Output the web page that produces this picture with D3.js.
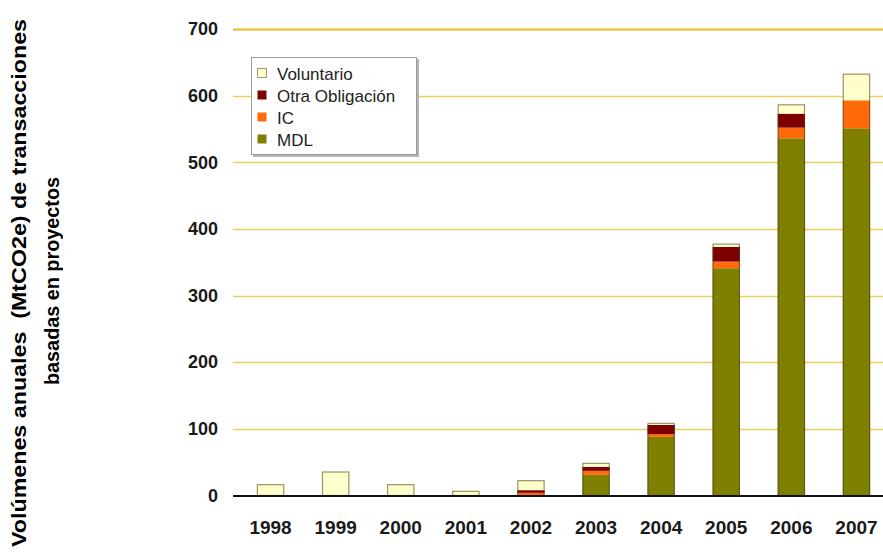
<!DOCTYPE html>
<html>
<head>
<meta charset="utf-8">
<script src="https://cdn.jsdelivr.net/npm/d3@7"></script>
<style>
  html, body { margin: 0; padding: 0; background: #ffffff; }
  svg { display: block; }
  text { font-family: "Liberation Sans", Arial, sans-serif; }
</style>
</head>
<body>
<svg id="chart" width="883" height="556"></svg>
<script>
// Annual project-based transaction volumes (MtCO2e), stacked by segment
const years = ["1998", "1999", "2000", "2001", "2002", "2003", "2004", "2005", "2006", "2007"];
const mdl        = [0, 0, 0, 0, 0, 31, 88, 341, 536, 551];
const ic         = [0, 0, 0, 0, 4, 6, 4, 10, 16, 42];
const otra       = [0, 0, 0, 0, 4, 6, 14, 22, 21, 0];
const voluntario = [17, 36, 17, 7, 15, 6, 3, 5, 14, 40];

const seriesNames  = ["MDL", "IC", "Otra Obligación", "Voluntario"];
const seriesColors = ["#7f7f00", "#ff6a0a", "#7d0000", "#ffffcc"];
const yTicks = [0, 100, 200, 300, 400, 500, 600, 700];
const titleLines = ["Volúmenes anuales  (MtCO2e) de transacciones", "basadas en proyectos"];

const rows = years.map((y, i) => ({
  year: y, "MDL": mdl[i], "IC": ic[i], "Otra Obligación": otra[i], "Voluntario": voluntario[i]
}));

const svg = d3.select("#chart");

const x = d3.scaleBand().domain(years).range([238, 889]).paddingInner(0.58).paddingOuter(0.29);
const y = d3.scaleLinear().domain([0, 700]).range([495.5, 29]);

// Gridlines with short outer ticks
const grid = svg.append("g");
grid.selectAll("line").data(yTicks.filter(d => d > 0)).join("line")
  .attr("x1", 233).attr("x2", 883)
  .attr("y1", d => Math.round(y(d)) + 0.5).attr("y2", d => Math.round(y(d)) + 0.5)
  .attr("stroke", d => d === 700 ? "#e6bd1e" : "#ecce5a")
  .attr("stroke-width", d => d === 700 ? 1.8 : 1.3);

// Y axis labels
const yAxis = d3.axisLeft(y).tickValues(yTicks).tickSize(0).tickPadding(0).tickFormat(d3.format("d"));
const yg = svg.append("g").attr("transform", "translate(218,0)").call(yAxis);
yg.select(".domain").remove();
yg.selectAll("text")
  .attr("fill", "#1a1a1a").attr("font-size", 18).attr("font-weight", "bold")
  .style("font-family", "'Liberation Sans', Arial, sans-serif");

// Stacked bars
const stack = d3.stack().keys(seriesNames);
const layers = stack(rows);
const color = d3.scaleOrdinal().domain(seriesNames).range(seriesColors);

const barG = svg.append("g");
barG.selectAll("g.layer").data(layers).join("g")
  .attr("class", "layer")
  .attr("fill", d => color(d.key))
  .selectAll("rect").data(d => d.filter(s => s[1] - s[0] > 0)).join("rect")
  .attr("x", d => x(d.data.year))
  .attr("width", x.bandwidth())
  .attr("y", d => y(d[1]))
  .attr("height", d => y(d[0]) - y(d[1]));

// Outline around each full bar
const totals = rows.map(r => ({ year: r.year, total: d3.sum(seriesNames, k => r[k]) }));
barG.selectAll("rect.outline").data(totals).join("rect")
  .attr("class", "outline")
  .attr("x", d => x(d.year) + 0.5)
  .attr("width", x.bandwidth() - 1)
  .attr("y", d => y(d.total) + 0.5)
  .attr("height", d => y(0) - y(d.total) - 0.5)
  .attr("fill", "none")
  .attr("stroke", "rgba(70,60,20,0.55)")
  .attr("stroke-width", 1.2);

// Baseline
svg.append("line")
  .attr("x1", 233).attr("x2", 883)
  .attr("y1", y(0) + 0.5).attr("y2", y(0) + 0.5)
  .attr("stroke", "#111").attr("stroke-width", 2.2);

// X axis labels
const xAxis = d3.axisBottom(x).tickSize(0).tickPadding(0);
const xg = svg.append("g").attr("transform", "translate(0,520)").call(xAxis);
xg.select(".domain").remove();
xg.selectAll("text")
  .attr("dy", "0.71em")
  .attr("fill", "#1a1a1a").attr("font-size", 19).attr("font-weight", "bold")
  .style("font-family", "'Liberation Sans', Arial, sans-serif");

// Legend
const legend = svg.append("g").attr("transform", "translate(251,57)");
legend.append("rect").attr("x", 2).attr("y", 2).attr("width", 166).attr("height", 98)
  .attr("fill", "#b5b5b5");
legend.append("rect").attr("x", 0.5).attr("y", 0.5).attr("width", 165).attr("height", 97)
  .attr("fill", "#ffffff").attr("stroke", "#9a9a9a").attr("stroke-width", 1);
const legendOrder = seriesNames.slice().reverse();
const items = legend.selectAll("g.item").data(legendOrder).join("g")
  .attr("class", "item")
  .attr("transform", (d, i) => `translate(6,${17 + i * 22})`);
items.append("rect")
  .attr("x", 0.5).attr("y", -5.5).attr("width", 9).attr("height", 9)
  .attr("fill", d => color(d))
  .attr("stroke", d => d === "Voluntario" ? "#a09a80" : "none");
items.append("text")
  .attr("x", 20).attr("y", 0).attr("dy", "0.35em")
  .attr("font-size", 17).attr("fill", "#222")
  .text(d => d);

// Rotated axis title, clipped on its right edge
svg.append("clipPath").attr("id", "titleClip")
  .append("rect").attr("x", 0).attr("y", 0).attr("width", 63).attr("height", 556);
const titleLengths = [528, 208];
const title = svg.append("g").attr("clip-path", "url(#titleClip)")
  .append("text")
  .attr("transform", "translate(0,283) rotate(-90)")
  .attr("text-anchor", "middle")
  .attr("font-size", 21).attr("font-weight", "bold").attr("fill", "#000")
  .style("white-space", "pre");
title.selectAll("tspan").data(titleLines).join("tspan")
  .attr("x", (d, i) => i === 0 ? 0 : 2)
  .attr("y", (d, i) => 26 + i * 33)
  .attr("textLength", (d, i) => titleLengths[i])
  .attr("lengthAdjust", "spacingAndGlyphs")
  .text(d => d);
</script>
</body>
</html>
